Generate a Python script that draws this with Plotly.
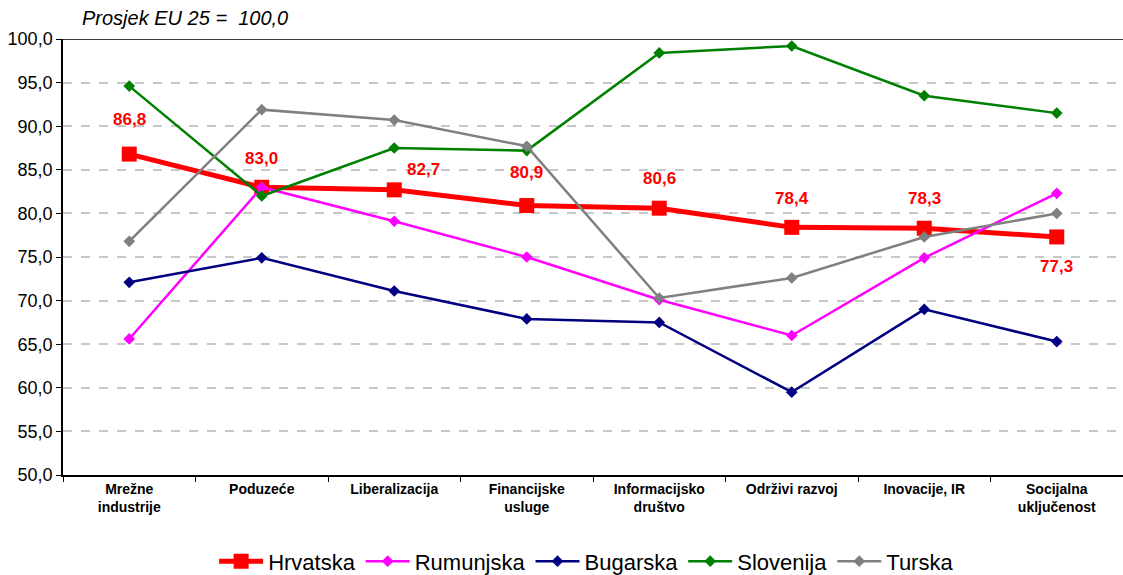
import plotly.graph_objects as go

categories = ["<b>Mrežne<br>industrije</b>", "<b>Poduzeće</b>", "<b>Liberalizacija</b>",
              "<b>Financijske<br>usluge</b>", "<b>Informacijsko<br>društvo</b>",
              "<b>Održivi razvoj</b>", "<b>Inovacije, IR</b>", "<b>Socijalna<br>uključenost</b>"]

hrvatska = [86.8, 83.0, 82.7, 80.9, 80.6, 78.4, 78.3, 77.3]
rumunjska = [65.6, 83.0, 79.1, 75.0, 70.1, 66.0, 74.9, 82.3]
bugarska = [72.1, 74.9, 71.1, 67.9, 67.5, 59.5, 69.0, 65.3]
slovenija = [94.6, 82.0, 87.5, 87.2, 98.4, 99.2, 93.5, 91.5]
turska = [76.8, 91.9, 90.7, 87.7, 70.3, 72.6, 77.3, 80.0]

label_text = ["86,8", "83,0", "82,7", "80,9", "80,6", "78,4", "78,3", "77,3"]
label_yshift = [35, 29, 20, 33, 30, 29, 30, -30]
label_xshift = [0, 0, 29, 0, 0, 0, 0, 0]

fig = go.Figure()

def add(name, vals, color, width, symbol, size):
    fig.add_trace(go.Scatter(
        x=categories, y=vals, name=name, mode="lines+markers",
        line=dict(color=color, width=width),
        marker=dict(color=color, symbol=symbol, size=size),
    ))

add("Hrvatska", hrvatska, "#FF0000", 5, "square", 15)
add("Rumunjska", rumunjska, "#FF00FF", 2.5, "diamond", 9)
add("Bugarska", bugarska, "#000080", 2.5, "diamond", 9)
add("Slovenija", slovenija, "#008000", 2.5, "diamond", 9)
add("Turska", turska, "#808080", 2.5, "diamond", 9)

for i, (c, v) in enumerate(zip(categories, hrvatska)):
    fig.add_annotation(x=c, y=v, text="<b>" + label_text[i] + "</b>", showarrow=False,
                       yshift=label_yshift[i], xshift=label_xshift[i],
                       font=dict(family="Liberation Sans, Arial", size=17, color="#FF0000"))

fig.add_annotation(xref="paper", yref="paper", x=0.016, y=1.0, yshift=21,
                   xanchor="left", yanchor="middle", showarrow=False,
                   text="<i>Prosjek EU 25 =  100,0</i>",
                   font=dict(family="Liberation Sans, Arial", size=20, color="#000000"))

fig.add_shape(type="line", xref="paper", yref="y", x0=0, x1=1, y0=100, y1=100,
              line=dict(color="#000000", width=1.5))

fig.update_layout(
    width=1123, height=575,
    margin=dict(l=63, r=0, t=39, b=100, autoexpand=False),
    paper_bgcolor="white", plot_bgcolor="white",
    separators=",.",
    font=dict(family="Liberation Sans, Arial", color="#000000"),
    showlegend=True,
    legend=dict(orientation="h", x=0.494, xanchor="center", y=-0.15, yanchor="top",
                font=dict(size=22, color="#000000"), itemwidth=44, traceorder="normal"),
    xaxis=dict(type="category", tickson="boundaries", ticks="outside", ticklen=5,
               tickcolor="#000000", showline=True, linecolor="#000000", linewidth=1.5,
               showgrid=False, tickfont=dict(size=14, color="#000000"),
               range=[-0.5, 7.5], automargin=False),
    yaxis=dict(range=[50, 100], dtick=5, tickformat=".1f", ticks="outside", ticklen=5,
               tickcolor="#000000", showline=True, linecolor="#000000", linewidth=1.5,
               showgrid=True, gridcolor="#C8C8C8", griddash="dash", gridwidth=1.5,
               zeroline=False, tickfont=dict(size=18, color="#000000"), automargin=False),
)

fig.write_html("out.html", config={"displayModeBar": False},
               post_script="document.body.style.margin='0';document.body.style.padding='0';")
